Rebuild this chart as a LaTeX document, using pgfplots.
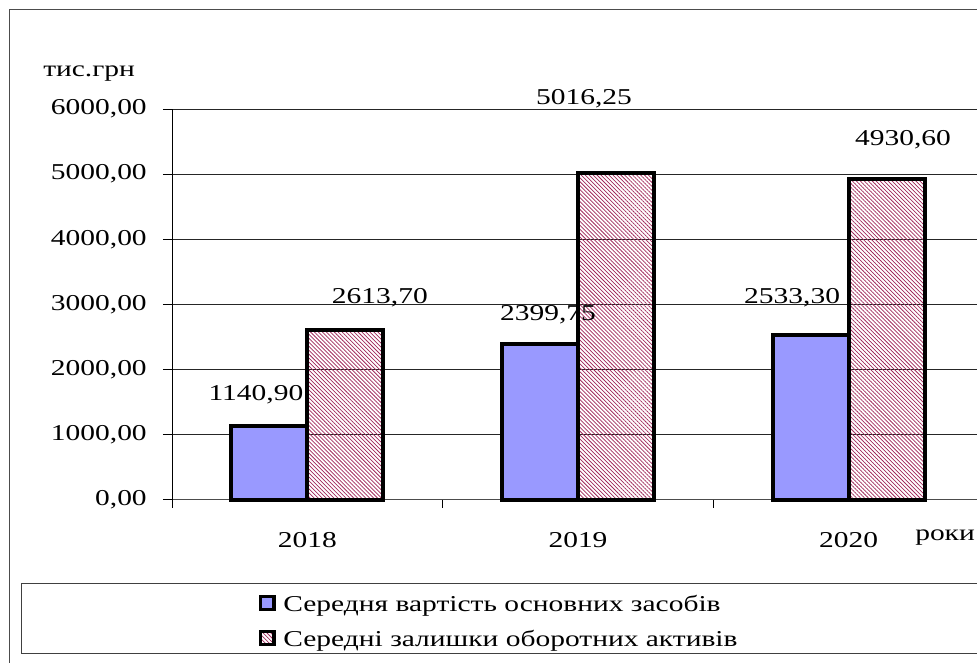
\documentclass[border=0pt]{standalone}
\usepackage{fontspec}
\setmainfont{Liberation Serif}[FakeStretch=1.3]
\usepackage{pgfplots}
\pgfplotsset{compat=1.18}
\usetikzlibrary{patterns.meta}
\definecolor{barblue}{RGB}{153,153,255}
\definecolor{hatchred}{RGB}{160,40,90}
\begin{document}
\begin{tikzpicture}[font=\fontsize{17}{20}\selectfont]
\path[use as bounding box] (0,0) rectangle (732.75pt,497.25pt);
\clip (0,0) rectangle (732.75pt,497.25pt);
% outer frame
\draw[black!70, line width=0.75pt] (6.75pt,-20pt) -- (6.75pt,489.75pt) -- (760pt,489.75pt);
% legend frame
\draw[black!75, line width=0.75pt] (15.75pt,6.75pt) rectangle (760pt,59.25pt);
\node[anchor=base west, inner sep=0pt] at (32.25pt,439.5pt) {тис.грн};
\node[anchor=base west, inner sep=0pt] at (686.25pt,91.5pt) {роки};
\begin{axis}[
  at={(129pt,122.25pt)}, anchor=south west,
  scale only axis, width=609pt, height=293.25pt,
  xmin=-0.5, xmax=2.5, ymin=0, ymax=6000,
  clip=false,
  axis x line=bottom, axis y line=left,
  axis line style={-},
  x axis line style={black!70, line width=0.75pt},
  y axis line style={black, line width=0.75pt},
  ybar=0pt, bar width=57pt,
  ytick={0,1000,...,6000},
  ymajorgrids, grid style={black!85, line width=0.75pt},
  xtick={0,1,2}, xticklabels={2018,2019,2020},
  minor xtick={-0.5,0.5,1.5,2.5},
  tick align=outside,
  major tick length=6.75pt, minor tick length=6pt,
  major x tick style={draw=none},
  tick style={black, line width=0.75pt},
  minor tick style={black, line width=0.75pt},
  yticklabel style={anchor=east, inner sep=0pt, xshift=-12pt,
    /pgf/number format/.cd, fixed, fixed zerofill, precision=2, use comma, 1000 sep={}, assume math mode=true},
  xticklabel style={anchor=base, inner sep=0pt, yshift=-29pt},
  legend cell align=left,
  legend style={draw=none, fill=none, inner sep=0pt, outer sep=0pt,
    at={(rel axis cs:0.10714,-0.2199)}, anchor=north west,
    row sep=0pt, column sep=0pt,
    nodes={inner sep=0pt, text height=19.5pt, text depth=6.75pt, anchor=base west}},
  legend image code/.code={%
    \draw[#1, line width=2.6pt] (0.5pt,1.8pt) rectangle (10.5pt,11.8pt);
    \path[draw=none, fill=none] (0pt,0pt) (17.5pt,0pt);},
]
\addplot[fill=barblue, draw=black, line width=3pt]
  coordinates {(0,1140.90) (1,2399.75) (2,2533.30)};
\addlegendentry{Середня вартість основних засобів}
\addplot[pattern={Lines[angle=-45,distance=2.1pt,line width=0.55pt]}, pattern color=hatchred, draw=black, line width=3pt]
  coordinates {(0,2613.70) (1,5016.25) (2,4930.60)};
\addlegendentry{Середні залишки оборотних активів}
\node[anchor=base, inner sep=0pt] at (axis cs:-0.190,1527) {1140,90};
\node[anchor=base, inner sep=0pt] at (axis cs:0.268,3015) {2613,70};
\node[anchor=base, inner sep=0pt] at (axis cs:0.889,2754) {2399,75};
\node[anchor=base, inner sep=0pt] at (axis cs:1.022,6069) {5016,25};
\node[anchor=base, inner sep=0pt] at (axis cs:1.791,3015) {2533,30};
\node[anchor=base, inner sep=0pt] at (axis cs:2.201,5440) {4930,60};
\end{axis}
\end{tikzpicture}
\end{document}
